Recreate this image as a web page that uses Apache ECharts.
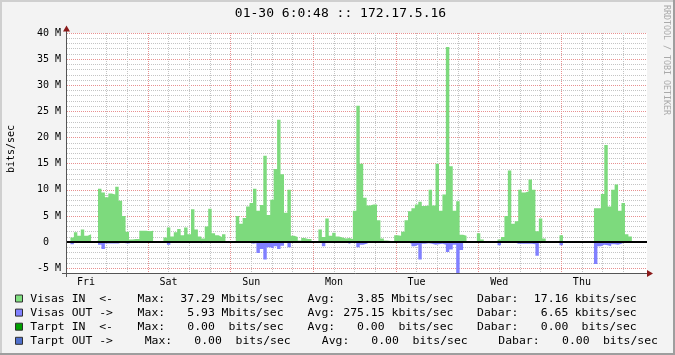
<!DOCTYPE html>
<html><head><meta charset="utf-8">
<script src="https://cdn.jsdelivr.net/npm/echarts@6/dist/echarts.min.js"></script>
<style>html,body{margin:0;padding:0;background:#F3F3F3}#c{width:675px;height:355px}</style>
</head><body><div id="c"></div>
<script>
// ---------------- data ----------------
const titleText = '01-30 6:0:48 :: 172.17.5.16';
const yAxisTitle = 'bits/sec';
const watermark = 'RRDTOOL / TOBI OETIKER';
const dayLabels = ['Fri', 'Sat', 'Sun', 'Mon', 'Tue', 'Wed', 'Thu'];
const firstMidnightHour = 17.5;   // hours after the start of the graph
const spanHours = 168.4;
// hourly averages, Mbits/sec
const visasIn = [
  0, 0.9, 1.9, 1.2, 2.4, 1.2, 1.5, 0, 0.3, 10.2, 9.5, 8.6,
  9.3, 9.1, 10.6, 7.9, 5.0, 2.0, 0.5, 0.6, 0.6, 2.2, 2.2, 2.1,
  2.2, 0, 0, 0, 0.9, 2.8, 1.1, 1.9, 2.5, 1.3, 2.8, 1.5,
  6.3, 2.4, 1.1, 0.7, 3.0, 6.4, 1.7, 1.3, 1.0, 1.5, 0, 0,
  0, 5.0, 3.5, 4.6, 6.8, 7.5, 10.2, 6.0, 7.1, 16.5, 5.2, 8.1,
  14.0, 23.4, 13.0, 5.6, 10.0, 1.2, 1.0, 0.3, 0.8, 0.6, 0.6, 0,
  0, 2.4, 1.0, 4.5, 1.2, 1.8, 1.1, 0.9, 0.7, 0.8, 0.6, 6.0,
  26.1, 15.0, 8.5, 7.0, 7.2, 7.2, 4.2, 0.7, 0.3, 0.2, 0, 1.3,
  1.2, 2.0, 4.2, 5.9, 6.5, 7.2, 7.7, 6.9, 7.0, 10.0, 7.0, 15.0,
  6.0, 9.1, 37.3, 14.5, 6.0, 7.8, 1.4, 1.2, 0.1, 0, 0, 1.7,
  0.5, 0, 0, 0, 0, 0.5, 1.0, 5.0, 13.7, 3.5, 4.0, 10.0,
  9.5, 9.7, 12.0, 10.0, 2.1, 4.5, 0.7, 0.2, 0, 0, 0, 1.3,
  0, 0, 0, 0, 0, 0, 0, 0, 0, 6.5, 6.5, 9.2,
  18.6, 6.8, 10.0, 11.0, 6.0, 7.5, 1.5, 1.1, 0, 0, 0, 0
];
const visasOut = [
  0, 0.4, 0, 0, 0, 0, 0, 0, 0, 0.5, 1.3, 0.25,
  0.25, 0.25, 0.25, 0, 0.2, 0.25, 0, 0, 0, 0, 0, 0,
  0, 0, 0, 0, 0, 0.5, 0, 0, 0, 0, 0, 0,
  0, 0, 0.2, 0, 0, 0, 0, 0, 0, 0, 0, 0,
  0, 0, 0, 0, 0, 0.3, 0.2, 2.1, 1.3, 3.3, 1.0, 1.2,
  0.8, 1.3, 0.7, 0, 1.0, 0, 0, 0, 0, 0, 0, 0,
  0, 0, 0.8, 0, 0, 0, 0, 0, 0, 0.3, 0, 0,
  1.0, 0.5, 0.3, 0, 0, 0, 0, 0, 0, 0, 0, 0,
  0, 0, 0, 0.3, 0.8, 0.5, 3.3, 0.3, 0.2, 0.3, 0.5, 0.4,
  0.3, 0.5, 1.9, 1.4, 0.5, 5.93, 1.5, 0, 0, 0, 0, 0,
  0, 0, 0, 0, 0, 0.6, 0, 0, 0, 0, 0.3, 0.3,
  0.3, 0.3, 0.3, 0.4, 2.6, 0, 0, 0, 0, 0, 0, 0.6,
  0, 0, 0, 0, 0, 0, 0, 0, 0, 4.2, 0.8, 0.5,
  0.6, 0.8, 0.4, 0.5, 0.3, 0, 0, 0, 0, 0, 0, 0
];
const legendNames = ['Visas IN  <-', 'Visas OUT ->', 'Tarpt IN  <-', 'Tarpt OUT ->'];
const maxVals = ['37.29', '5.93', '0.00', '0.00'];
const maxUnits = ['Mbits/sec', 'Mbits/sec', ' bits/sec', ' bits/sec'];
const avgVals = ['3.85', '275.15', '0.00', '0.00'];
const avgUnits = ['Mbits/sec', 'kbits/sec', ' bits/sec', ' bits/sec'];
const curVals = ['17.16', '6.65', '0.00', '0.00'];
const curUnits = ['kbits/sec', 'kbits/sec', ' bits/sec', ' bits/sec'];

// ---------------- style ----------------
const MONO = "'DejaVu Sans Mono', monospace";
const seriesColors = ['#7DDA7D', '#8080FF', '#00A000', '#5070CC'];
const legendColors = ['#80E080', '#8080FF', '#00A000', '#5070CC'];
const GRAY = '#C4C4C4', RED = '#E89090';
const G = { left: 67, right: 28, top: 33, bottom: 81.5 };

const chart = echarts.init(document.getElementById('c'), null, { renderer: 'canvas' });

const gridHours = [];
for (let h = firstMidnightHour - 12; h <= spanHours; h += 6) gridHours.push(h);
const noonHours = dayLabels.map((d, k) => firstMidnightHour - 12 + 24 * k);
const gridColors = gridHours.map(h => (Math.abs(((h - firstMidnightHour) % 24 + 24) % 24) < 1e-6 ? RED : GRAY));

function stepData(arr, sign) {
  const d = arr.map((v, i) => [i, sign * v]);
  d.push([arr.length, sign * arr[arr.length - 1]]);
  return d;
}

const graphics = [];
graphics.push({ type: 'rect', shape: { x: 0, y: 0, width: 675, height: 355 }, style: { fill: '#F3F3F3' }, z: -10, silent: true });
graphics.push({ type: 'rect', shape: { x: 0, y: 0, width: 675, height: 2 }, style: { fill: '#CFCFCF' }, z: -9, silent: true });
graphics.push({ type: 'rect', shape: { x: 0, y: 0, width: 2, height: 355 }, style: { fill: '#CFCFCF' }, z: -9, silent: true });
graphics.push({ type: 'rect', shape: { x: 673, y: 0, width: 2, height: 355 }, style: { fill: '#9E9E9E' }, z: -9, silent: true });
graphics.push({ type: 'rect', shape: { x: 0, y: 353, width: 675, height: 2 }, style: { fill: '#9E9E9E' }, z: -9, silent: true });
graphics.push({ type: 'text', x: 340.5, y: 14, style: { text: titleText, font: '13px ' + MONO, fill: '#000', align: 'center', verticalAlign: 'middle' }, z: 10 });
graphics.push({ type: 'text', x: 666.5, y: 60, rotation: -Math.PI / 2, style: { text: watermark, font: '8.3px ' + MONO, fill: '#AAAAAA', align: 'center', verticalAlign: 'middle' }, z: 10 });
graphics.push({ type: 'text', x: 11.5, y: 149, rotation: Math.PI / 2, style: { text: yAxisTitle, font: '10px ' + MONO, fill: '#000', align: 'center', verticalAlign: 'middle' }, z: 10 });
// axes with arrows
graphics.push({ type: 'line', shape: { x1: 66.5, y1: 277, x2: 66.5, y2: 29 }, style: { stroke: '#555', lineWidth: 1 }, z: 20 });
graphics.push({ type: 'line', shape: { x1: 62, y1: 273.5, x2: 649, y2: 273.5 }, style: { stroke: '#555', lineWidth: 1 }, z: 20 });
graphics.push({ type: 'polygon', shape: { points: [[63, 31.5], [70, 31.5], [66.5, 25.5]] }, style: { fill: '#8B1A1A' }, z: 21 });
graphics.push({ type: 'polygon', shape: { points: [[647, 270], [647, 277], [653, 273.5]] }, style: { fill: '#8B1A1A' }, z: 21 });

// legend rows (rrdtool GPRINT lines)
const CW = 7.1;
legendNames.forEach((name, r) => {
  const y = 298.8 + 14.1 * r;
  const s1 = r === 3 ? CW : 0, s2 = r === 3 ? 2 * CW : 0, s3 = r === 3 ? 3 * CW : 0;
  const t = (txt, x, align) => graphics.push({ type: 'text', x: x, y: y, scaleX: 1.09,
    style: { text: txt, font: '10.5px ' + MONO, fill: '#000', align: align || 'left', verticalAlign: 'middle' }, z: 10 });
  graphics.push({ type: 'rect', shape: { x: 15.5, y: y - 3.8, width: 7, height: 7 }, style: { fill: legendColors[r], stroke: '#303030', lineWidth: 1 }, z: 10 });
  t(name, 30.3);
  t('Max:', 137.6 + s1);
  t(maxVals[r], 214.8 + s1, 'right');
  t(maxUnits[r], 221.6 + s1);
  t('Avg:', 307.6 + s2);
  t(avgVals[r], 384.6 + s2, 'right');
  t(avgUnits[r], 391.5 + s2);
  t('Dabar:', 477 + s3);
  t(curVals[r], 568.3 + s3, 'right');
  t(curUnits[r], 574.7 + s3);
});

chart.setOption({
  animation: false,
  backgroundColor: '#F3F3F3',
  grid: { left: G.left, right: G.right, top: G.top, bottom: G.bottom, show: true, backgroundColor: '#FFFFFF', borderWidth: 0 },
  xAxis: {
    type: 'value', min: 0, max: spanHours,
    axisLine: { show: false },
    axisTick: { show: false, customValues: gridHours },
    splitLine: { show: true, showMinLine: false, showMaxLine: false, lineStyle: { color: gridColors, type: [1, 1], width: 1 } },
    axisLabel: {
      customValues: noonHours, margin: 4, fontFamily: MONO, fontSize: 10, color: '#000',
      formatter: v => dayLabels[Math.round((v - noonHours[0]) / 24)] || ''
    }
  },
  yAxis: {
    type: 'value', min: -6, max: 40, interval: 1,
    axisLine: { show: false }, axisTick: { show: false },
    splitLine: { show: true, lineStyle: { color: [GRAY, RED, GRAY, GRAY, GRAY], type: [1, 1], width: 1 } },
    axisLabel: {
      margin: 6, fontFamily: MONO, fontSize: 10, color: '#000',
      formatter: v => (v % 5 === 0 ? (v === 0 ? '0  ' : v + ' M') : '')
    }
  },
  series: [
    { name: legendNames[0], type: 'line', step: 'end', data: stepData(visasIn, 1), symbol: 'none', silent: true,
      lineStyle: { width: 0 }, areaStyle: { color: seriesColors[0], opacity: 1 }, z: 2 },
    { name: legendNames[1], type: 'line', step: 'end', data: stepData(visasOut, -1), symbol: 'none', silent: true,
      lineStyle: { width: 0 }, areaStyle: { color: seriesColors[1], opacity: 1 }, z: 3,
      markLine: { silent: true, symbol: ['none', 'none'], label: { show: false },
        lineStyle: { color: '#000', width: 2, type: 'solid' }, data: [{ yAxis: 0 }] } }
  ],
  graphic: graphics
});
</script></body></html>
